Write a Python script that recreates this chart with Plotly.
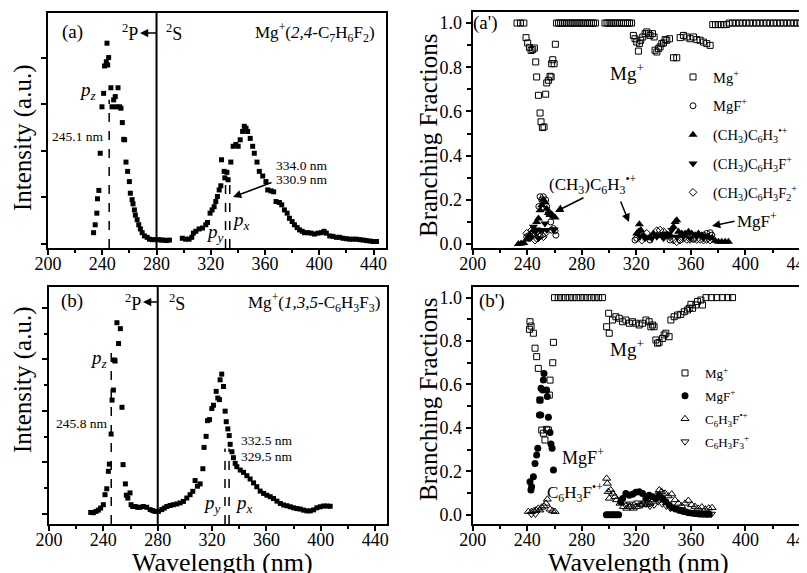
import plotly.graph_objects as go

FONT = "Liberation Serif"
# the page body has an 8 px margin, so the figure is drawn 8 px smaller and
# every reference pixel position is shifted by that margin
OFF = 8
W, H = 807 - OFF, 573 - OFF

# ---------------- Panel (a): Mg+(2,4-C7H6F2) photodissociation spectrum ----------------
a_wl = [233.6, 234.8, 236.0, 236.5, 237.5, 238.5, 239.8, 241.0, 241.7, 243.0,
        243.5, 244.0, 244.7, 246.4, 247.2, 248.4, 249.6, 250.4, 251.6, 252.8,
        253.8, 254.8, 255.8, 256.5, 257.5, 258.7, 260.0, 260.7, 262.0, 262.7,
        263.7, 264.4, 265.7, 266.9, 268.1, 269.4, 271.1, 273.1, 274.8, 276.8,
        279.3, 281.5, 283.5, 285.5, 287.5, 289.5, 299.0, 301.5, 304.0, 306.0,
        307.2, 309.0, 311.4, 313.9, 316.3, 317.6, 319.5, 321.0, 322.5, 323.7,
        324.9, 326.2, 327.4, 327.9, 329.9, 330.4, 331.9, 332.8, 334.8, 336.5,
        338.5, 340.2, 341.7, 343.5, 344.7, 346.0, 347.2, 349.1, 350.9, 352.1,
        354.1, 355.8, 358.3, 360.7, 362.0, 364.4, 366.4, 368.1, 370.6, 372.3,
        374.3, 376.3, 378.0, 380.0, 381.7, 383.7, 385.4, 387.4, 389.1, 391.6,
        394.1, 396.5, 399.0, 401.5, 403.5, 405.2, 407.7, 410.1, 412.6, 415.0,
        417.5, 420.0, 422.4, 425.0, 427.4, 429.9, 432.4, 434.8, 437.3, 439.8,
        442.2]
a_int = [0.24, 0.41, 0.66, 0.97, 1.15, 1.95, 2.95, 3.24, 3.83, 3.92,
         4.32, 3.85, 4.01, 3.36, 2.95, 3.10, 3.17, 2.95, 3.36, 2.95,
         2.92, 2.61, 2.25, 2.24, 1.76, 1.56, 1.34, 1.09, 0.95, 0.86,
         0.73, 0.62, 0.52, 0.41, 0.32, 0.24, 0.17, 0.14, 0.10, 0.09,
         0.09, 0.09, 0.08, 0.08, 0.07, 0.08, 0.12, 0.10, 0.10, 0.14,
         0.23, 0.27, 0.32, 0.34, 0.41, 0.46, 0.66, 0.73, 0.80, 0.91,
         1.02, 1.16, 1.25, 1.81, 1.56, 1.42, 1.54, 1.38, 1.76, 2.10,
         2.14, 2.10, 2.24, 2.42, 2.53, 2.49, 2.42, 2.27, 2.10, 1.95,
         1.76, 1.56, 1.46, 1.34, 1.16, 1.14, 1.12, 0.91, 0.89, 0.84,
         0.73, 0.66, 0.55, 0.48, 0.41, 0.35, 0.30, 0.27, 0.24, 0.24,
         0.23, 0.21, 0.23, 0.24, 0.27, 0.23, 0.17, 0.16, 0.14, 0.14,
         0.12, 0.11, 0.10, 0.10, 0.10, 0.09, 0.08, 0.07, 0.06, 0.05,
         0.05]
a_peaks = [245.1, 330.9, 334.0]
a_peak_tops = [3.1, 1.34, 1.34]

# ---------------- Panel (b): Mg+(1,3,5-C6H3F3) ----------------
b_wl = [230.7, 232.6, 234.6, 236.3, 238.0, 240.0, 241.2, 242.5, 243.7, 244.4,
        245.7, 246.4, 247.4, 248.1, 248.6, 250.0, 251.2, 252.5, 253.7, 254.5,
        256.2, 256.9, 258.0, 259.6, 260.4, 261.6, 263.3, 265.3, 267.0, 269.4,
        271.9, 274.4, 276.3, 278.0, 280.5, 283.0, 284.9, 286.7, 289.1, 291.5,
        294.0, 296.5, 298.9, 301.4, 303.8, 305.8, 307.5, 309.2, 311.2, 313.2,
        314.1, 315.6, 316.6, 318.1, 319.8, 321.0, 323.0, 324.2, 325.4, 325.9,
        327.1, 328.4, 329.6, 330.4, 331.6, 332.6, 333.3, 334.6, 335.7, 337.0,
        338.2, 340.7, 343.1, 345.6, 348.0, 350.5, 352.9, 355.4, 357.9, 360.3,
        362.8, 365.2, 367.7, 370.2, 372.6, 375.1, 377.5, 380.0, 382.4, 384.8,
        387.3, 389.8, 392.2, 394.7, 397.1, 399.6, 402.0, 404.5, 406.9]
b_int = [0.05, 0.04, 0.09, 0.14, 0.22, 0.35, 0.74, 0.97, 1.65, 1.93,
         3.10, 4.42, 4.81, 5.98, 5.94, 7.43, 6.62, 7.20, 4.14, 1.91,
         1.16, 0.72, 0.61, 0.81, 0.35, 0.28, 0.28, 0.25, 0.25, 0.28,
         0.25, 0.16, 0.12, 0.09, 0.09, 0.16, 0.22, 0.28, 0.32, 0.35,
         0.38, 0.42, 0.48, 0.61, 0.74, 0.87, 1.29, 1.07, 1.16, 1.75,
         2.58, 3.01, 3.62, 3.66, 4.09, 4.22, 4.76, 4.50, 4.44, 5.21,
         5.43, 4.95, 3.99, 3.58, 3.30, 3.04, 2.70, 2.41, 2.18, 1.96,
         1.83, 1.70, 1.61, 1.48, 1.35, 1.20, 1.05, 0.88, 0.79, 0.72,
         0.66, 0.59, 0.49, 0.40, 0.34, 0.31, 0.27, 0.23, 0.20, 0.18,
         0.14, 0.11, 0.11, 0.15, 0.23, 0.27, 0.30, 0.30, 0.29]
b_peaks = [245.8, 329.5, 332.5]
b_peak_tops = [6.5, 2.54, 2.54]
threshold_nm = 280

# ---------------- Panel (a'): branching fractions ----------------
ap_mg_wl = [232.5, 235.0, 237.5,
            239.1, 240.3, 241.6, 242.8, 244.0, 245.2, 246.2, 246.9, 248.2, 249.4,
            250.1, 251.1, 252.3, 253.5, 254.3, 255.5, 256.7, 257.5, 257.9, 258.7,
            259.7, 260.6,
            261.5, 263.0, 264.5, 266.0, 267.5, 269.0, 270.5, 272.0, 273.5, 275.0,
            276.5, 278.0, 279.5, 281.0, 282.5, 284.0, 285.5, 287.0, 288.5, 290.0,
            297.0, 298.5, 300.0, 301.5, 303.0, 304.5, 306.0, 307.5, 309.0, 310.5,
            312.0, 313.5, 315.0, 316.5,
            317.8, 319.0, 320.3, 321.5, 322.2, 323.2, 324.7, 326.4, 327.6, 328.9,
            330.0, 331.8, 333.0, 333.7, 335.0, 336.2, 337.4, 338.6, 339.9, 341.1,
            342.3, 344.3, 347.2, 349.6, 352.1, 354.5, 357.0, 359.4, 361.9, 364.3,
            366.7, 369.2, 371.6, 374.1,
            376.0, 378.0, 380.0, 382.0, 384.0, 386.0,
            388.0, 390.5, 393.0, 395.5, 398.0, 400.5, 403.0, 405.5, 408.0, 410.5,
            413.0, 415.5, 418.0, 420.5, 423.0, 425.5, 428.0, 430.5, 433.0, 435.5,
            438.0, 440.5]
ap_mg_val = [1.0, 1.0, 1.0,
             0.934, 0.910, 0.890, 0.876, 0.880, 0.887, 0.824, 0.756, 0.673, 0.593,
             0.553, 0.527, 0.530, 0.678, 0.729, 0.741, 0.759, 0.756, 0.816, 0.834,
             0.816, 0.904,
             1.0, 1.0, 1.0, 1.0, 1.0, 1.0, 1.0, 1.0, 1.0, 1.0,
             1.0, 1.0, 1.0, 1.0, 1.0, 1.0, 1.0, 1.0, 1.0, 1.0,
             1.0, 1.0, 1.0, 1.0, 1.0, 1.0, 1.0, 1.0, 1.0, 1.0,
             1.0, 1.0, 1.0, 1.0,
             0.944, 0.929, 0.914, 0.873, 0.907, 0.922, 0.937, 0.952, 0.960, 0.952,
             0.944, 0.952, 0.937, 0.877, 0.869, 0.884, 0.892, 0.907, 0.910, 0.925,
             0.922, 0.929, 0.843, 0.843, 0.934, 0.944, 0.937, 0.929, 0.937, 0.925,
             0.922, 0.914, 0.907, 0.899,
             0.993, 0.993, 0.993, 0.993, 0.993, 0.993,
             1.0, 1.0, 1.0, 1.0, 1.0, 1.0, 1.0, 1.0, 1.0, 1.0,
             1.0, 1.0, 1.0, 1.0, 1.0, 1.0, 1.0, 1.0, 1.0, 1.0,
             1.0, 1.0]
ap_c_wl = [239.6, 241.6, 245.7, 248.5, 249.4, 250.6, 251.8, 253.5, 254.3, 255.5,
           257.2, 257.9, 259.2, 260.4, 261.0, 319.0, 320.3, 330.0, 339.9, 344.7,
           352.1, 361.9, 369.2, 371.6, 374.1, 375.3]
ap_c_val = [0.033, 0.026, 0.048, 0.170, 0.214, 0.200, 0.214, 0.200, 0.169, 0.140,
            0.100, 0.063, 0.070, 0.060, 0.040, 0.018, 0.026, 0.018, 0.040, 0.018,
            0.018, 0.021, 0.040, 0.048, 0.051, 0.040]
ap_t_wl = [233.5, 235.5, 237.5, 239.5, 241.5, 244.5, 246.9, 248.2, 249.4, 250.6,
           251.8, 253.0, 254.3, 255.5, 256.7, 257.9, 259.2, 260.4,
           320.3, 321.5, 322.2, 323.2, 325.2, 327.6, 330.0, 332.5, 335.0, 337.4,
           339.9, 342.3, 344.7, 347.2, 348.4, 349.6, 350.9, 353.3, 355.7, 358.2,
           360.6, 363.1, 365.5, 368.0, 370.4, 372.9, 375.3, 377.8, 380.2, 382.6,
           385.1, 387.5]
ap_t_val = [0.000, 0.002, 0.005, 0.020, 0.040, 0.063, 0.100, 0.115, 0.153, 0.176,
            0.200, 0.190, 0.160, 0.140, 0.131, 0.135, 0.125, 0.120,
            0.048, 0.056, 0.090, 0.063, 0.040, 0.026, 0.033, 0.048, 0.040, 0.036,
            0.040, 0.033, 0.040, 0.078, 0.100, 0.108, 0.056, 0.048, 0.048, 0.056,
            0.048, 0.040, 0.048, 0.040, 0.033, 0.033, 0.026, 0.015, 0.010, 0.010,
            0.010, 0.010]
ap_d_wl = [242.0, 244.5, 245.7, 246.9, 248.2, 249.4, 251.3, 253.0, 254.3, 259.7,
           322.7, 326.4, 331.3, 335.0, 339.9, 343.5, 346.0, 349.6, 354.5, 359.4,
           364.3, 369.2, 374.0]
ap_d_val = [0.030, 0.078, 0.056, 0.066, 0.026, 0.063, 0.063, 0.093, 0.063, 0.066,
            0.033, 0.026, 0.026, 0.033, 0.026, 0.048, 0.063, 0.033, 0.033, 0.026,
            0.033, 0.026, 0.030]
ap_m_wl = [239.6, 241.5, 243.3, 244.5, 245.7, 246.9, 248.9, 250.6, 251.8, 253.0,
           324.0, 327.6, 335.0, 337.4, 339.9, 342.3, 344.7, 347.2, 349.6, 352.1,
           354.5, 357.0, 359.4, 361.9, 364.3, 366.7, 369.2, 371.6, 374.1]
ap_m_val = [0.048, 0.040, 0.063, 0.040, 0.018, 0.026, 0.033, 0.040, 0.033, 0.048,
            0.018, 0.048, 0.060, 0.063, 0.056, 0.040, 0.033, 0.018, 0.010, 0.018,
            0.026, 0.021, 0.021, 0.026, 0.021, 0.021, 0.018, 0.021, 0.018]

# ---------------- Panel (b'): branching fractions ----------------
bp_mg_wl = [241.6, 242.0, 242.8, 244.5, 245.7, 246.9, 248.1, 249.3, 250.6, 251.8,
            253.0, 254.2, 255.5, 256.2, 256.7, 258.7, 259.2,
            260.0, 262.7, 265.4, 268.1, 270.8, 273.5, 276.2, 278.9, 281.6, 284.3,
            287.0, 289.7, 292.4, 295.1,
            298.2, 299.7, 300.1, 302.5, 305.0, 307.4, 309.9, 312.3, 314.8, 317.2,
            319.6, 322.1, 324.5, 327.0, 329.4, 330.6, 331.9, 333.0, 334.3, 335.5,
            336.7, 339.1, 340.4, 341.6, 344.0, 345.3, 347.7, 350.2, 352.6, 355.1,
            357.5, 358.7, 360.0, 361.2, 363.6, 364.8, 367.3, 368.5, 371.0,
            375.0, 379.0, 383.0, 387.0, 390.5]
bp_mg_val = [0.854, 0.889, 0.869, 0.836, 0.767, 0.728, 0.674, 0.528, 0.390, 0.375,
             0.344, 0.393, 0.390, 0.551, 0.620, 0.700, 0.794,
             1.0, 1.0, 1.0, 1.0, 1.0, 1.0, 1.0, 1.0, 1.0, 1.0,
             1.0, 1.0, 1.0, 1.0,
             0.866, 0.928, 0.836, 0.897, 0.912, 0.905, 0.889, 0.897, 0.882, 0.889,
             0.882, 0.874, 0.882, 0.897, 0.889, 0.866, 0.874, 0.866, 0.805, 0.790,
             0.794, 0.812, 0.828, 0.836, 0.820, 0.897, 0.912, 0.920, 0.923, 0.935,
             0.943, 0.951, 0.969, 0.951, 0.966, 0.982, 0.989, 0.966, 1.0,
             1.0, 1.0, 1.0, 1.0, 1.0]
bp_c_wl = [242.0, 242.7, 243.2, 244.5, 245.7, 246.9, 247.7, 248.9, 249.3, 249.9,
           250.1, 251.3, 251.8, 252.3, 254.2, 254.7, 255.5, 256.7, 257.4, 258.2,
           259.2,
           298.0, 299.5, 301.0, 302.5, 304.0, 305.5, 307.0,
           308.5, 309.9, 312.3, 314.8, 317.2, 319.6, 322.1, 324.5, 327.0, 329.4,
           331.9, 334.3, 336.7, 339.1, 341.6, 344.0, 346.5, 348.9, 351.3, 353.8,
           356.2, 358.7, 361.2, 363.6, 366.0, 368.5, 371.0, 373.4]
bp_c_val = [0.152, 0.114, 0.129, 0.175, 0.236, 0.275, 0.306, 0.459, 0.528, 0.459,
            0.582, 0.574, 0.620, 0.651, 0.574, 0.544, 0.449, 0.379, 0.326, 0.306,
            0.206,
            0.0, 0.0, 0.0, 0.0, 0.0, 0.0, 0.0,
            0.060, 0.075, 0.098, 0.090, 0.094, 0.103, 0.106, 0.098, 0.075, 0.090,
            0.083, 0.075, 0.090, 0.075, 0.060, 0.045, 0.032, 0.026, 0.022, 0.017,
            0.014, 0.009, 0.006, 0.005, 0.003, 0.002, 0.002, 0.002]
bp_t_wl = [240.8, 243.2, 244.9, 246.4, 248.1, 249.3, 250.6, 252.3, 253.7, 254.7,
           256.7, 258.6, 260.3,
           298.2, 298.7, 299.4, 300.2, 301.2, 302.6, 304.3, 305.6, 308.0, 310.5,
           312.9, 315.4, 317.8, 320.2, 322.7, 325.1, 327.5, 330.0, 332.4, 334.9,
           336.8, 338.5, 341.0, 343.4, 345.9, 348.3, 350.8, 353.2, 355.7, 358.1,
           360.5, 363.0, 365.4, 368.0, 370.5, 373.0, 375.5]
bp_t_val = [0.014, 0.014, 0.018, 0.021, 0.029, 0.021, 0.034, 0.040, 0.052, 0.071,
            0.025, 0.017, 0.014,
            0.167, 0.144, 0.106, 0.075, 0.114, 0.098, 0.083, 0.068, 0.052, 0.037,
            0.029, 0.037, 0.029, 0.037, 0.045, 0.052, 0.045, 0.052, 0.068, 0.091,
            0.114, 0.106, 0.098, 0.086, 0.095, 0.068, 0.052, 0.040, 0.052, 0.065,
            0.045, 0.037, 0.029, 0.035, 0.025, 0.030, 0.032]
bp_d_wl = [243.0, 246.0, 312.0, 315.0, 318.0, 321.0, 324.0, 327.0, 330.0, 333.0,
           336.0, 339.0, 342.0, 345.0, 348.0, 351.0, 354.0, 357.0, 360.0, 363.0,
           366.0, 369.0, 372.0, 375.0]
bp_d_val = [0.002, 0.003, 0.045, 0.050, 0.040, 0.055, 0.045, 0.050, 0.040, 0.045,
            0.060, 0.050, 0.040, 0.030, 0.030, 0.020, 0.015, 0.010, 0.010, 0.008,
            0.005, 0.005, 0.003, 0.003]

x_ticks = [200, 240, 280, 320, 360, 400, 440]


def X(px):
    return (px - OFF) / W


def Y(py):
    return 1 - (py - OFF) / H


fig = go.Figure()

sq_fill = dict(symbol="square", size=5, color="black", line=dict(width=0))
fig.add_trace(go.Scatter(x=a_wl, y=a_int, mode="markers", marker=sq_fill,
                         xaxis="x", yaxis="y", showlegend=False))
fig.add_trace(go.Scatter(x=b_wl, y=b_int, mode="markers", marker=sq_fill,
                         xaxis="x3", yaxis="y3", showlegend=False))

open_sq = dict(symbol="square-open", size=6, color="black", line=dict(width=1))
# (a') traces
fig.add_trace(go.Scatter(x=ap_mg_wl, y=ap_mg_val, mode="markers", marker=open_sq,
                         xaxis="x2", yaxis="y2", name="Mg<sup>+</sup>",
                         legend="legend", legendgroup="a1"))
fig.add_trace(go.Scatter(x=ap_c_wl, y=ap_c_val, mode="markers",
                         marker=dict(symbol="circle-open", size=6, color="black", line=dict(width=1)),
                         xaxis="x2", yaxis="y2", name="MgF<sup>+</sup>",
                         legend="legend", legendgroup="a2"))
fig.add_trace(go.Scatter(x=ap_t_wl, y=ap_t_val, mode="markers",
                         marker=dict(symbol="triangle-up", size=8, color="black"),
                         xaxis="x2", yaxis="y2",
                         name="(CH<sub>3</sub>)C<sub>6</sub>H<sub>3</sub><sup>\u2022+</sup>",
                         legend="legend", legendgroup="a3"))
fig.add_trace(go.Scatter(x=ap_d_wl, y=ap_d_val, mode="markers",
                         marker=dict(symbol="triangle-down", size=8, color="black"),
                         xaxis="x2", yaxis="y2",
                         name="(CH<sub>3</sub>)C<sub>6</sub>H<sub>3</sub>F<sup>+</sup>",
                         legend="legend", legendgroup="a4"))
fig.add_trace(go.Scatter(x=ap_m_wl, y=ap_m_val, mode="markers",
                         marker=dict(symbol="diamond-open", size=6, color="black", line=dict(width=1)),
                         xaxis="x2", yaxis="y2",
                         name="(CH<sub>3</sub>)C<sub>6</sub>H<sub>3</sub>F<sub>2</sub><sup>+</sup>",
                         legend="legend", legendgroup="a5"))
# (b') traces
fig.add_trace(go.Scatter(x=bp_mg_wl, y=bp_mg_val, mode="markers", marker=open_sq,
                         xaxis="x4", yaxis="y4", name="Mg<sup>+</sup>",
                         legend="legend2", legendgroup="b1"))
fig.add_trace(go.Scatter(x=bp_c_wl, y=bp_c_val, mode="markers",
                         marker=dict(symbol="circle", size=7, color="black"),
                         xaxis="x4", yaxis="y4", name="MgF<sup>+</sup>",
                         legend="legend2", legendgroup="b2"))
fig.add_trace(go.Scatter(x=bp_t_wl, y=bp_t_val, mode="markers",
                         marker=dict(symbol="triangle-up-open", size=7, color="black", line=dict(width=1)),
                         xaxis="x4", yaxis="y4",
                         name="C<sub>6</sub>H<sub>3</sub>F<sup>\u2022+</sup>",
                         legend="legend2", legendgroup="b3"))
fig.add_trace(go.Scatter(x=bp_d_wl, y=bp_d_val, mode="markers",
                         marker=dict(symbol="triangle-down-open", size=7, color="black", line=dict(width=1)),
                         xaxis="x4", yaxis="y4",
                         name="C<sub>6</sub>H<sub>3</sub>F<sub>3</sub><sup>+</sup>",
                         legend="legend2", legendgroup="b4"))

axis_base = dict(showline=True, linecolor="black", linewidth=2, ticks="outside",
                 tickcolor="black", tickwidth=1.5, ticklen=5, showgrid=False,
                 zeroline=False, tickfont=dict(family=FONT, size=18, color="black"))
x_extra = dict(ticklabelstandoff=-7)
xminor = dict(tickvals=[220, 260, 300, 340, 380, 420], ticks="outside", ticklen=3,
              tickcolor="black", tickwidth=1.5)

ya_range = [-0.09, 4.97]
yb_range = [-0.40, 8.82]

fig.update_layout(
    width=W, height=H, margin=dict(l=0, r=0, t=0, b=0, autoexpand=False),
    paper_bgcolor="white", plot_bgcolor="white",
    font=dict(family=FONT, color="black"),
    xaxis=dict(axis_base, **x_extra, domain=[X(48), X(386)], range=[200, 449.2], anchor="y",
               tickvals=x_ticks, minor=xminor, mirror=True),
    yaxis=dict(axis_base, domain=[Y(248), Y(13)], range=ya_range, anchor="x",
               tickvals=[0, 1, 2, 3, 4], showticklabels=False, mirror=True),
    xaxis2=dict(axis_base, **x_extra, domain=[X(472.7), 1.0], range=[200, 445.1], anchor="y2",
                tickvals=x_ticks, minor=xminor, mirror=True, ticklabeloverflow="allow"),
    yaxis2=dict(axis_base, domain=[Y(248), Y(12)], range=[-0.018, 1.05], anchor="x2",
                tickvals=[0, 0.2, 0.4, 0.6, 0.8, 1.0], tickformat=".1f",
                minor=dict(tickvals=[0.1, 0.3, 0.5, 0.7, 0.9], ticks="outside", ticklen=4,
                           tickcolor="black", tickwidth=1.5)),
    xaxis3=dict(axis_base, **x_extra, domain=[X(49), X(387)], range=[200, 448.7], anchor="y3",
                tickvals=x_ticks, minor=xminor, mirror=True),
    yaxis3=dict(axis_base, domain=[Y(524), Y(287)], range=yb_range, anchor="x3",
                tickvals=[0, 2, 4, 6, 8], showticklabels=False, mirror=True,
                minor=dict(tickvals=[1, 3, 5, 7], ticks="outside", ticklen=3,
                           tickcolor="black", tickwidth=1.5)),
    xaxis4=dict(axis_base, **x_extra, domain=[X(472.7), 1.0], range=[200, 445.1], anchor="y4",
                tickvals=x_ticks, minor=xminor, mirror=True, ticklabeloverflow="allow"),
    yaxis4=dict(axis_base, domain=[Y(524), Y(287)], range=[-0.043, 1.049], anchor="x4",
                tickvals=[0, 0.2, 0.4, 0.6, 0.8, 1.0], tickformat=".1f",
                minor=dict(tickvals=[0.1, 0.3, 0.5, 0.7, 0.9], ticks="outside", ticklen=4,
                           tickcolor="black", tickwidth=1.5)),
    legend=dict(x=X(673), y=Y(61), xanchor="left", yanchor="top",
                font=dict(family=FONT, size=14.5, color="black"), tracegroupgap=7,
                bgcolor="rgba(0,0,0,0)", itemwidth=30),
    legend2=dict(x=X(665), y=Y(358), xanchor="left", yanchor="top",
                 font=dict(family=FONT, size=13, color="black"), tracegroupgap=3,
                 bgcolor="rgba(0,0,0,0)", itemwidth=30),
)

shapes = []
for xr, yr in (("x", "y"), ("x3", "y3")):
    shapes.append(dict(type="line", xref=xr, yref=yr + " domain", x0=threshold_nm,
                       x1=threshold_nm, y0=0, y1=1, line=dict(color="black", width=2)))
for nm, top in zip(a_peaks, a_peak_tops):
    shapes.append(dict(type="line", xref="x", yref="y", x0=nm, x1=nm, y0=ya_range[0], y1=top,
                       line=dict(color="black", width=1.5, dash="dash")))
for nm, top in zip(b_peaks, b_peak_tops):
    shapes.append(dict(type="line", xref="x3", yref="y3", x0=nm, x1=nm, y0=yb_range[0], y1=top,
                       line=dict(color="black", width=1.5, dash="dash")))
fig.update_layout(shapes=shapes)


def txt(px, py, s, size=17, **kw):
    d = dict(x=X(px), y=Y(py), xref="paper", yref="paper", text=s, showarrow=False,
             font=dict(family=FONT, size=size, color="black"),
             xanchor="center", yanchor="middle")
    d.update(kw)
    return d


def arrow(hx, hy, tx, ty):
    return dict(x=X(hx), y=Y(hy), xref="paper", yref="paper", text="", showarrow=True,
                ax=tx - hx, ay=ty - hy, arrowhead=2, arrowsize=1.1, arrowwidth=1.5,
                arrowcolor="black")


ann = [
    # axis titles
    txt(23, 138, "Intensity (a.u.)", 25, textangle=-90),
    txt(23, 380, "Intensity (a.u.)", 25, textangle=-90),
    txt(428, 136, "Branching Fractions", 25, textangle=-90),
    txt(428, 400, "Branching Fractions", 25, textangle=-90),
    txt(222, 562, "Wavelength (nm)", 26),
    txt(638, 562, "Wavelength (nm)", 26),
    # panel (a)
    txt(72, 32, "(a)", 19),
    txt(130, 33, "<sup>2</sup>P", 18), arrow(140, 33, 158, 33), txt(174, 33, "<sup>2</sup>S", 18),
    txt(315, 32, "Mg<sup>+</sup>(<i>2,4</i>-C<sub>7</sub>H<sub>6</sub>F<sub>2</sub>)", 17),
    txt(87, 91, "<i>p<sub>z</sub></i>", 19),
    txt(78, 137, "245.1 nm", 13.5),
    txt(302, 165, "334.0 nm", 13.5),
    txt(302, 180, "330.9 nm", 13.5),
    arrow(233, 197, 273, 182),
    txt(215, 233, "<i>p<sub>y</sub></i>", 19),
    txt(241, 221, "<i>p<sub>x</sub></i>", 19),
    # panel (b)
    txt(72, 301, "(b)", 19),
    txt(133, 302, "<sup>2</sup>P", 18), arrow(143, 302, 160, 302), txt(177, 302, "<sup>2</sup>S", 18),
    txt(314, 302, "Mg<sup>+</sup>(<i>1,3,5</i>-C<sub>6</sub>H<sub>3</sub>F<sub>3</sub>)", 17),
    txt(98, 359, "<i>p<sub>z</sub></i>", 19),
    txt(82, 423, "245.8 nm", 13.5),
    txt(267, 440, "332.5 nm", 13.5),
    txt(267, 457, "329.5 nm", 13.5),
    txt(212, 504, "<i>p<sub>y</sub></i>", 19),
    txt(244, 504, "<i>p<sub>x</sub></i>", 19),
    # panel (a')
    txt(485, 23, "(a')", 19),
    txt(627, 72, "Mg<sup>+</sup>", 19),
    txt(593, 185, "(CH<sub>3</sub>)C<sub>6</sub>H<sub>3</sub><sup>\u2022+</sup>", 17),
    arrow(555, 212, 585, 197),
    arrow(629, 222, 620, 200),
    txt(757, 220, "MgF<sup>+</sup>", 17),
    arrow(712, 226, 736, 221),
    # panel (b')
    txt(492, 301, "(b')", 19),
    txt(627, 348, "Mg<sup>+</sup>", 19),
    txt(583, 457, "MgF<sup>+</sup>", 18),
    txt(575, 492, "C<sub>6</sub>H<sub>3</sub>F<sup>\u2022+</sup>", 17),
]
fig.update_layout(annotations=ann)

fig.write_html("out.html")
